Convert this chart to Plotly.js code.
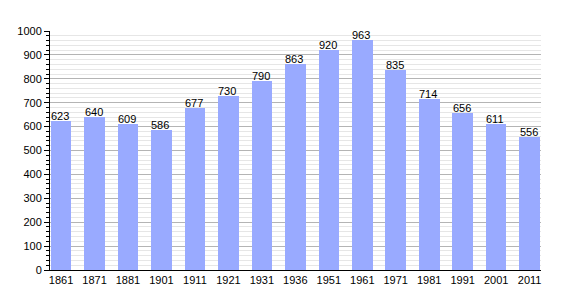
<!DOCTYPE html>
<html><head><meta charset="utf-8">
<script src="https://cdn.plot.ly/plotly-3.0.1.min.js"></script>
<style>body{margin:0;background:#fff}#c{width:570px;height:300px}</style>
</head><body><div id="c"></div>
<script>
const years = ["1861","1871","1881","1901","1911","1921","1931","1936","1951","1961","1971","1981","1991","2001","2011"];
const population = [623,640,609,586,677,730,790,863,920,963,835,714,656,611,556];

const font = {family: 'Liberation Sans, Arial, sans-serif', size: 11, color: '#000'};

Plotly.newPlot('c', [{
  type: 'bar',
  x: years.map((_, i) => i),
  y: population,
  width: 0.615,
  marker: {color: '#99AAFF'},
  hoverinfo: 'none'
}], {
  width: 570, height: 300,
  margin: {l: 50, r: 29, t: 31, b: 30},
  paper_bgcolor: '#fff', plot_bgcolor: '#fff',
  showlegend: false,
  bargap: 0,
  annotations: population.map((v, i) => ({
    x: i, y: v, text: String(v), showarrow: false,
    xanchor: 'center', yanchor: 'bottom', yshift: -3, xshift: -1,
    font: font
  })),
  xaxis: {
    range: [-0.33, 14.34],
    tickmode: 'array',
    tickvals: years.map((_, i) => i),
    ticktext: years,
    showgrid: false,
    zeroline: false,
    showline: true, linecolor: '#000', linewidth: 1,
    ticks: '',
    tickfont: font
  },
  yaxis: {
    range: [0, 1000],
    dtick: 100,
    showgrid: true, gridcolor: '#b4b4b4', gridwidth: 1,
    zeroline: false,
    showline: true, linecolor: '#000', linewidth: 1,
    ticks: 'outside', ticklen: 5, tickcolor: '#000',
    minor: {dtick: 20, showgrid: true, gridcolor: '#e6e6e6', ticks: 'outside', ticklen: 3, tickcolor: '#000'},
    tickfont: font
  }
}, {staticPlot: true});
</script></body></html>
